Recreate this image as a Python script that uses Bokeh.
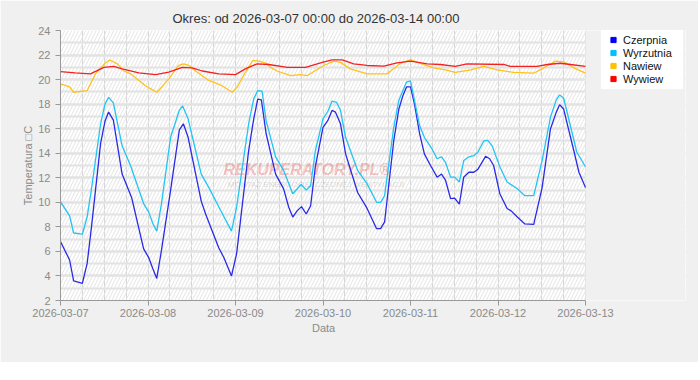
import numpy as np
from bokeh.plotting import figure
from bokeh.models import (Range1d, FixedTicker, DatetimeTickFormatter, Legend, LegendItem,
                          BoxAnnotation, Label, ColumnDataSource, Title)
from bokeh.embed import file_html
from bokeh.resources import INLINE

# ---------------- data ----------------
START = "2026-03-07T00:00"
TITLE = "Okres: od 2026-03-07 00:00 do 2026-03-14 00:00"
N_DAYS = 6
Y_TICKS = list(range(2, 25, 2))

czerpnia_h = [0, 2.5, 3.6, 6.0, 7.3, 8.5, 11.0, 12.2, 13.2, 14.5, 16.9, 19.5, 22.8, 24.2, 25.3,
              26.4, 27.7, 30.2, 32.6, 33.7, 35.0, 38.6, 39.8, 43.4, 44.8, 46.9, 48.3, 51.6, 53.0,
              54.1, 55.1, 56.4, 59.0, 61.2, 62.6, 63.7, 64.9, 66.1, 67.4, 68.6, 69.9, 72.0, 73.3,
              74.5, 75.4, 76.8, 78.2, 81.5, 84.1, 86.7, 87.8, 88.9, 91.4, 92.8, 94.0, 94.9, 96.0,
              97.1, 98.5, 99.8, 101.5, 103.3, 104.5, 105.6, 107.0, 108.1, 109.4, 110.6, 112.0,
              113.4, 114.5, 116.6, 117.7, 118.8, 120.5, 122.5, 123.6, 125.3, 127.3, 129.8, 132.1,
              134.4, 136.0, 136.9, 138.0, 140.8, 142.2, 144.0]
czerpnia = [6.8, 5.3, 3.6, 3.4, 5.0, 8.0, 14.8, 16.6, 17.35, 16.7, 12.3, 10.4, 6.2, 5.5, 4.6,
            3.8, 6.1, 11.0, 15.9, 16.4, 15.3, 10.1, 9.05, 6.3, 5.5, 4.0, 5.8, 14.2, 16.8,
            18.4, 18.35, 15.6, 12.3, 11.1, 9.6, 8.8, 9.3, 9.65, 9.05, 9.7, 12.9, 16.1, 16.65,
            17.5, 17.35, 16.4, 13.95, 10.8, 9.5, 7.85, 7.85, 8.4, 15.0, 17.6, 18.75, 19.4, 19.4,
            18.0, 15.6, 13.95, 13.0, 12.05, 12.3, 11.8, 10.3, 10.35, 9.85, 12.05, 12.45,
            12.45, 12.7, 13.75, 13.55, 13.0, 10.7, 9.5, 9.3, 8.8, 8.25, 8.2, 11.2,
            16.0, 17.35, 17.95, 17.6, 14.2, 12.45, 11.2]

wyrzutnia_h = [0, 2.5, 3.6, 6.0, 7.3, 8.5, 11.0, 12.2, 13.2, 14.5, 16.9, 19.2, 22.8, 24.2, 25.3,
               26.4, 27.7, 30.2, 32.6, 33.5, 35.0, 38.6, 40.7, 43.9, 46.9, 48.3, 51.6, 53.0, 54.1,
               55.3, 56.4, 59.0, 61.2, 63.7, 66.0, 67.4, 68.6, 69.9, 72.0, 73.3, 74.5, 75.7, 76.8,
               78.2, 81.5, 84.1, 86.7, 87.8, 88.9, 91.4, 92.8, 94.0, 94.9, 96.0, 97.1, 98.5, 99.8,
               101.9, 103.3, 104.5, 105.6, 107.0, 108.1, 109.4, 110.6, 112.0, 113.4, 114.5, 116.1,
               117.2, 118.4, 120.5, 122.5, 125.3, 127.3, 129.8, 132.1, 134.4, 136.0, 136.9, 138.0,
               141.6, 144.0]
wyrzutnia = [10.05, 8.9, 7.5, 7.4, 8.8, 11.1, 16.4, 18.0, 18.55, 18.1, 14.6, 13.0, 9.9, 9.2, 8.3,
             7.65, 9.9, 15.3, 17.5, 17.85, 16.8, 12.3, 11.2, 9.35, 7.65, 9.6, 16.4, 18.45, 19.1,
             19.05, 16.65, 13.7, 12.6, 10.7, 11.45, 11.0, 11.35, 14.2, 16.8, 17.4, 18.25, 18.15, 17.5,
             15.3, 12.6, 11.5, 10.0, 10.0, 10.55, 16.1, 18.3, 19.15, 19.8, 19.9, 18.3, 16.25, 15.3,
             14.35, 13.55, 13.7, 13.25, 12.05, 12.05, 11.65, 13.4, 13.7, 13.8, 14.1, 15.0,
             15.05, 14.6, 12.9, 11.65, 11.1, 10.55, 10.55, 13.4, 16.95, 18.35, 18.75, 18.5,
             14.1, 12.9]

nawiew_h = [0, 2.5, 3.6, 7.3, 9.6, 12.2, 13.5, 15.6, 17.4, 19.2, 23.3, 25.6, 26.5, 29.7, 32.4,
            33.8, 35.2, 37.5, 40.7, 44.3, 47.1, 48.5, 50.7, 52.7, 54.4, 56.7, 57.6, 59.4, 63.1,
            65.8, 67.7, 72.2, 75.0, 76.8, 79.5, 84.1, 89.6, 93.3, 96.0, 98.7, 102.4, 105.6, 108.3,
            112.5, 116.1, 119.8, 124.3, 129.8, 132.6, 135.8, 138.0, 140.8, 144.0]
nawiew = [19.65, 19.4, 18.97, 19.1, 20.47, 21.33, 21.6, 21.28, 20.7, 20.47, 19.5, 19.1, 18.97, 20.06,
          21.15, 21.28, 21.15, 20.6, 19.93, 19.5, 18.97, 19.4, 20.6, 21.55, 21.5, 21.3, 21.0, 20.7,
          20.33, 20.4, 20.33, 21.15, 21.5, 21.4, 20.87, 20.47, 20.47, 21.33, 21.63, 21.33, 20.96,
          20.8, 20.58, 20.8, 21.07, 20.8, 20.58, 20.52, 20.96, 21.5, 21.45, 20.96, 20.52]

wywiew_h = [0, 4.0, 8.2, 11.9, 14.6, 16.9, 21.5, 26.1, 29.7, 33.4, 36.1, 38.9, 43.4, 48.0, 50.7,
            53.9, 57.1, 62.2, 67.2, 71.8, 74.5, 77.3, 80.4, 84.1, 88.7, 92.3, 96.0, 100.6, 104.2,
            108.3, 111.5, 121.6, 123.4, 130.7, 133.5, 137.1, 139.9, 144.0]
wywiew = [20.65, 20.55, 20.47, 21.0, 21.07, 20.87, 20.55, 20.4, 20.6, 21.0, 20.96, 20.7, 20.47,
          20.4, 20.87, 21.28, 21.23, 21.0, 21.0, 21.4, 21.6, 21.6, 21.28, 21.15, 21.1, 21.37, 21.5,
          21.28, 21.23, 21.07, 21.28, 21.23, 21.07, 21.07, 21.23, 21.33, 21.23, 21.07]

SERIES = [
    ("Czerpnia", czerpnia_h, czerpnia, "#0000ff", "#2a2ae6"),
    ("Wyrzutnia", wyrzutnia_h, wyrzutnia, "#00bfff", "#22c4f4"),
    ("Nawiew", nawiew_h, nawiew, "#ffc000", "#ffc21a"),
    ("Wywiew", wywiew_h, wywiew, "#ff0000", "#f42020"),
]

# ---------------- layout constants (pixels) ----------------
FIG_W, FIG_H = 698, 362
B_LEFT, B_RIGHT, B_TOP, B_BOTTOM = 60, 13, 30, 62
PLOT_PX = 525                      # width of the data area (6 days)
FRAME_PX = FIG_W - B_LEFT - B_RIGHT
DATA_H = 24 * N_DAYS
VIEW_H = DATA_H * FRAME_PX / PLOT_PX   # frame extends right to host the legend

t0 = np.datetime64(START, "ms")


def ms_at(hours):
    h = np.asarray(hours, dtype=float)
    return t0.astype("int64") + h * 3600_000.0


FONT = "Liberation Sans"
GREY = "#8a8a8a"
BG = "#f0f0f0"

p = figure(width=FIG_W, height=FIG_H, x_axis_type="datetime",
           x_range=Range1d(ms_at(0), ms_at(VIEW_H)), y_range=Range1d(2, 24),
           output_backend="svg", toolbar_location=None,
           min_border_left=B_LEFT, min_border_right=B_RIGHT, min_border_top=B_TOP,
           min_border_bottom=B_BOTTOM, background_fill_color="white", border_fill_color=BG)
p.outline_line_color = None

p.title.text = TITLE
p.title.align = "left"
p.title.offset = 112
p.title.text_font = FONT
p.title.text_font_size = "13px"
p.title.text_font_style = "normal"
p.title.text_color = "#333333"
p.title.standoff = 9

# hatched plot background
p.add_layout(BoxAnnotation(right=float(ms_at(DATA_H)), fill_alpha=0, line_alpha=0,
                           hatch_pattern="/", hatch_color="#e4e4e4", hatch_scale=7,
                           hatch_weight=1, level="underlay"))
# area right of the data (legend host) painted like the page
p.add_layout(BoxAnnotation(left=float(ms_at(DATA_H)), fill_color=BG, fill_alpha=1,
                           line_alpha=0, level="underlay"))

# axes/ticks
day_ticks = list(ms_at([24 * d for d in range(N_DAYS + 1)]))
minor_x = list(ms_at([6 * k for k in range(4 * N_DAYS + 1)]))
p.xaxis.ticker = FixedTicker(ticks=day_ticks, minor_ticks=minor_x)
p.xaxis.bounds = (float(ms_at(0)), float(ms_at(DATA_H)))
fmt = "%Y-%m-%d"
p.xaxis.formatter = DatetimeTickFormatter(days=fmt, months=fmt, hours=fmt, years=fmt)
p.yaxis.ticker = FixedTicker(ticks=Y_TICKS, minor_ticks=list(range(2, 25)))

p.yaxis.axis_label = "Temperatura \u25a1C"
for ax in (p.xaxis, p.yaxis):
    ax.axis_line_color = "#999999"
    ax.major_tick_line_color = "#999999"
    ax.major_tick_in = 0
    ax.major_tick_out = 5
    ax.minor_tick_line_color = None
    ax.major_label_text_font = FONT
    ax.major_label_text_font_size = "11px"
    ax.major_label_text_color = GREY
    ax.axis_label_text_font = FONT
    ax.axis_label_text_font_size = "11px"
    ax.axis_label_text_font_style = "normal"
    ax.axis_label_text_color = GREY
p.xaxis.major_label_standoff = 3
p.yaxis.major_label_standoff = 5
p.yaxis.axis_label_standoff = 1

# x axis title, centred under the data area
p.add_layout(Title(text="Data", align="left", offset=PLOT_PX / 2 - 11, text_font=FONT,
                   text_font_size="11px", text_font_style="normal", text_color=GREY,
                   standoff=0), "below")

p.xgrid.grid_line_color = "#d6d6d6"
p.xgrid.minor_grid_line_color = "#d6d6d6"
p.ygrid.grid_line_color = "#e2e2e2"
p.ygrid.grid_line_width = 2
p.ygrid.minor_grid_line_color = "#e2e2e2"
p.ygrid.minor_grid_line_width = 2

# watermark
wm_x = float(ms_at(44.7))
p.add_layout(Label(x=wm_x, y=12.7, text="REKUPERATORY.PL\u00ae", text_font=FONT,
                   text_font_size="16px", text_font_style="bold italic", text_color="#e63232",
                   text_alpha=0.3, text_baseline="middle", text_align="left", level="underlay"))
p.add_layout(Label(x=wm_x + 1.2 * 3600_000, y=11.45,
                   text="MONTA\u017b ENERGOOSZCZ\u0118DNEJ WENTYLACJI", text_font=FONT,
                   text_font_size="8px", text_color="#9a9a9a", text_alpha=0.35,
                   text_baseline="middle", text_align="left", level="underlay"))

items = []
for name, hrs, vals, lcol, linecol in SERIES:
    src = ColumnDataSource(dict(x=ms_at(hrs), y=vals))
    p.line("x", "y", source=src, line_color=linecol, line_width=1.3)
    # legend proxy (a single undefined point: nothing is drawn in the plot)
    proxy = p.scatter(x=np.array([np.nan]), y=np.array([np.nan]), marker="square",
                      fill_color=lcol, line_color=lcol)
    items.append(LegendItem(label=name, renderers=[proxy]))

legend = Legend(items=items, location=(PLOT_PX + 15, 210), background_fill_color="white",
                background_fill_alpha=1.0, border_line_color="#e6e6e6", border_line_width=1,
                padding=4, margin=0, spacing=0, glyph_width=16, glyph_height=13,
                label_height=13, label_width=56, label_standoff=2,
                label_text_font=FONT, label_text_font_size="11px", label_text_color="#111111")
p.add_layout(legend, "center")

open("out.html", "w").write(file_html(p, INLINE))
